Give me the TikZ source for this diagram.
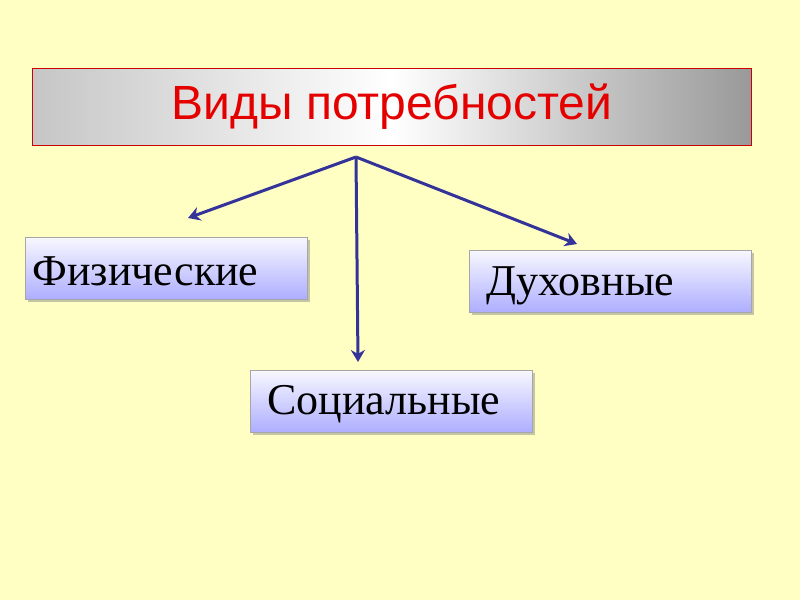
\documentclass[tikz,border=0pt]{standalone}
\usepackage{fontspec}
\setmainfont{Liberation Serif}
\newfontfamily\arialf{Liberation Sans}
\usetikzlibrary{shadows,arrows.meta}
\definecolor{bg}{HTML}{FFFFC4}
\definecolor{arr}{HTML}{333399}
\begin{document}
\begin{tikzpicture}[x=1pt,y=-1pt,
  kind/.style={draw=gray!70,line width=0.8pt,top color=blue!3,bottom color=blue!32,
    drop shadow={shadow xshift=3pt,shadow yshift=-3pt,opacity=0.45},
    minimum height=62pt,minimum width=282pt,anchor=north west,inner sep=0pt},
  lbl/.style={anchor=west,font=\fontsize{44}{44}\selectfont},
  link/.style={draw=arr,line width=3pt,-{Stealth[length=12pt,width=14pt]}}]
\fill[bg] (0,0) rectangle (800,600);
\useasboundingbox (0,0) rectangle (800,600);
\node[draw=red!80!black,line width=0.6pt,left color=gray!45,right color=gray!80,middle color=white,
  minimum width=719pt,minimum height=77pt,anchor=north west,inner sep=0pt,
  font=\arialf\fontsize{48}{48}\selectfont,text=red!90!black] (title) at (32,68) {Виды потребностей};
\node[kind] (fiz) at (25,237) {};
\node[lbl] (fizt) at (29,271) {Физические};
\node[kind] (duh) at (469,250) {};
\node[lbl] (duht) at (483,286) {Духовные};
\node[kind] (soc) at (250,370) {};
\node[lbl] (soct) at (264,404) {Социальные};
\coordinate (o) at (356,157);
\coordinate (e1) at (188,218);
\coordinate (e2) at (358,362);
\coordinate (e3) at (577,244);
\draw[link] (o) -- (e1);
\draw[link] (o) -- (e2);
\draw[link] (o) -- (e3);
\end{tikzpicture}
\end{document}
